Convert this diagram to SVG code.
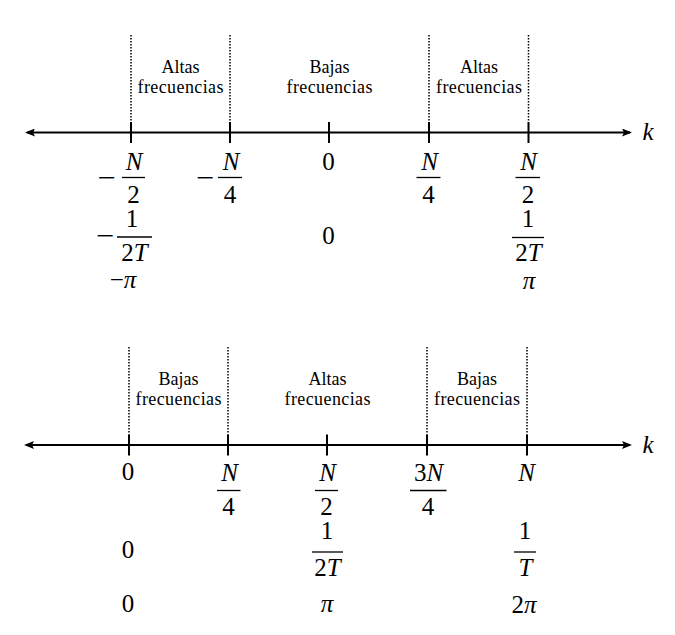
<svg xmlns="http://www.w3.org/2000/svg" width="675" height="635" viewBox="0 0 675 635">
<defs>
<style>
.ax{stroke:#000;stroke-width:2;fill:none}
.tk{stroke:#000;stroke-width:2}
.dt{stroke:#000;stroke-width:1.5;stroke-dasharray:1.5 1.5}
.fb{stroke:#000;stroke-width:1.3}
.lb{font-family:"Liberation Serif",serif;font-size:18px;text-anchor:middle;fill:#000}
.m{font-family:"Liberation Serif",serif;font-size:25px;text-anchor:middle;fill:#000}
.i{font-style:italic}
.mn{stroke:#000;stroke-width:0.3}
</style>
<marker id="ah" viewBox="0 0 10 8" refX="8" refY="4" markerWidth="10" markerHeight="8" markerUnits="userSpaceOnUse" orient="auto-start-reverse">
<path d="M0,0 L10,4 L0,8 L2,4 z" fill="#000"/>
</marker>
</defs>
<rect width="675" height="635" fill="#fff"/>

<g id="connectors">
<line class="ax" x1="27" y1="132.5" x2="630" y2="132.5" marker-start="url(#ah)" marker-end="url(#ah)"/>
<line class="ax" x1="26" y1="445" x2="630" y2="445" marker-start="url(#ah)" marker-end="url(#ah)"/>
<g id="ticks-top">
<line class="tk" x1="131" y1="122" x2="131" y2="143"/>
<line class="tk" x1="230" y1="122" x2="230" y2="143"/>
<line class="tk" x1="329" y1="122" x2="329" y2="143"/>
<line class="tk" x1="429" y1="122" x2="429" y2="143"/>
<line class="tk" x1="528.5" y1="122" x2="528.5" y2="143"/>
</g>
<g id="ticks-bottom">
<line class="tk" x1="129" y1="434.5" x2="129" y2="455.5"/>
<line class="tk" x1="228" y1="434.5" x2="228" y2="455.5"/>
<line class="tk" x1="327" y1="434.5" x2="327" y2="455.5"/>
<line class="tk" x1="427" y1="434.5" x2="427" y2="455.5"/>
<line class="tk" x1="527" y1="434.5" x2="527" y2="455.5"/>
</g>
<g id="dotted-top">
<line class="dt" x1="131" y1="35" x2="131" y2="122"/>
<line class="dt" x1="230" y1="35" x2="230" y2="122"/>
<line class="dt" x1="429" y1="35" x2="429" y2="122"/>
<line class="dt" x1="528.5" y1="35" x2="528.5" y2="122"/>
</g>
<g id="dotted-bottom">
<line class="dt" x1="129" y1="347" x2="129" y2="434.5"/>
<line class="dt" x1="228" y1="347" x2="228" y2="434.5"/>
<line class="dt" x1="427" y1="347" x2="427" y2="434.5"/>
<line class="dt" x1="527" y1="347" x2="527" y2="434.5"/>
</g>
</g>

<g id="axis-label-top"><text class="m i" x="648" y="140">k</text></g>
<g id="axis-label-bottom"><text class="m i" x="648" y="452.5">k</text></g>

<g id="region-top-1">
<text class="lb" x="180.5" y="73">Altas</text>
<text class="lb" x="180.5" y="93" textLength="86" lengthAdjust="spacing">frecuencias</text>
</g>
<g id="region-top-2">
<text class="lb" x="329.5" y="73">Bajas</text>
<text class="lb" x="329.5" y="93" textLength="86" lengthAdjust="spacing">frecuencias</text>
</g>
<g id="region-top-3">
<text class="lb" x="479" y="73">Altas</text>
<text class="lb" x="479" y="93" textLength="86" lengthAdjust="spacing">frecuencias</text>
</g>
<g id="region-bottom-1">
<text class="lb" x="178.5" y="385">Bajas</text>
<text class="lb" x="178.5" y="405" textLength="86" lengthAdjust="spacing">frecuencias</text>
</g>
<g id="region-bottom-2">
<text class="lb" x="327.5" y="385">Altas</text>
<text class="lb" x="327.5" y="405" textLength="86" lengthAdjust="spacing">frecuencias</text>
</g>
<g id="region-bottom-3">
<text class="lb" x="477" y="385">Bajas</text>
<text class="lb" x="477" y="405" textLength="86" lengthAdjust="spacing">frecuencias</text>
</g>

<!-- top axis values -->
<g id="top-k-neg-half">
<text class="m mn" transform="translate(106.5 185.5) scale(1.25 1)">−</text>
<text class="m i" x="134" y="170">N</text>
<line class="fb" x1="122" y1="177.5" x2="145" y2="177.5"/>
<text class="m" x="133.5" y="203">2</text>
</g>
<g id="top-k-neg-quarter">
<text class="m mn" transform="translate(205 185.5) scale(1.25 1)">−</text>
<text class="m i" x="231" y="170">N</text>
<line class="fb" x1="218" y1="177.5" x2="242" y2="177.5"/>
<text class="m" x="230" y="203">4</text>
</g>
<g id="top-k-zero"><text class="m" x="328.5" y="170">0</text></g>
<g id="top-k-quarter">
<text class="m i" x="429.5" y="170">N</text>
<line class="fb" x1="416.5" y1="177.5" x2="440.5" y2="177.5"/>
<text class="m" x="428.5" y="203">4</text>
</g>
<g id="top-k-half">
<text class="m i" x="528.5" y="170">N</text>
<line class="fb" x1="515.5" y1="177.5" x2="540" y2="177.5"/>
<text class="m" x="528" y="203">2</text>
</g>

<g id="top-f-neg">
<text class="m mn" transform="translate(105 244) scale(1.25 1)">−</text>
<text class="m" x="132" y="227">1</text>
<line class="fb" x1="117" y1="237" x2="152" y2="237"/>
<text class="m" x="134.5" y="261">2<tspan class="i">T</tspan></text>
</g>
<g id="top-f-zero"><text class="m" x="328.5" y="244">0</text></g>
<g id="top-f-pos">
<text class="m" x="528" y="227">1</text>
<line class="fb" x1="512" y1="237.5" x2="544" y2="237.5"/>
<text class="m" x="528.5" y="261">2<tspan class="i">T</tspan></text>
</g>

<g id="top-w-neg"><text class="m" x="123" y="288">−<tspan class="i">π</tspan></text></g>
<g id="top-w-pos"><text class="m i" x="529" y="289">π</text></g>

<!-- bottom axis values -->
<g id="bot-k-zero"><text class="m" x="128" y="480">0</text></g>
<g id="bot-k-quarter">
<text class="m i" x="229.5" y="481">N</text>
<line class="fb" x1="217" y1="490.5" x2="240.5" y2="490.5"/>
<text class="m" x="228.5" y="515">4</text>
</g>
<g id="bot-k-half">
<text class="m i" x="327.5" y="481">N</text>
<line class="fb" x1="315" y1="490.5" x2="338" y2="490.5"/>
<text class="m" x="326.5" y="515">2</text>
</g>
<g id="bot-k-3quarter">
<text class="m" x="428.5" y="481">3<tspan class="i">N</tspan></text>
<line class="fb" x1="410" y1="490.5" x2="446.5" y2="490.5"/>
<text class="m" x="428" y="515">4</text>
</g>
<g id="bot-k-full"><text class="m i" x="526.5" y="481">N</text></g>

<g id="bot-f-zero"><text class="m" x="128" y="558">0</text></g>
<g id="bot-f-half">
<text class="m" x="327" y="539">1</text>
<line class="fb" x1="312" y1="552" x2="343" y2="552"/>
<text class="m" x="327.5" y="576">2<tspan class="i">T</tspan></text>
</g>
<g id="bot-f-full">
<text class="m" x="525" y="539">1</text>
<line class="fb" x1="514" y1="552" x2="536" y2="552"/>
<text class="m i" x="525.5" y="576">T</text>
</g>

<g id="bot-w-zero"><text class="m" x="128" y="612">0</text></g>
<g id="bot-w-half"><text class="m i" x="327" y="612">π</text></g>
<g id="bot-w-full"><text class="m" x="524" y="613">2<tspan class="i">π</tspan></text></g>
</svg>
